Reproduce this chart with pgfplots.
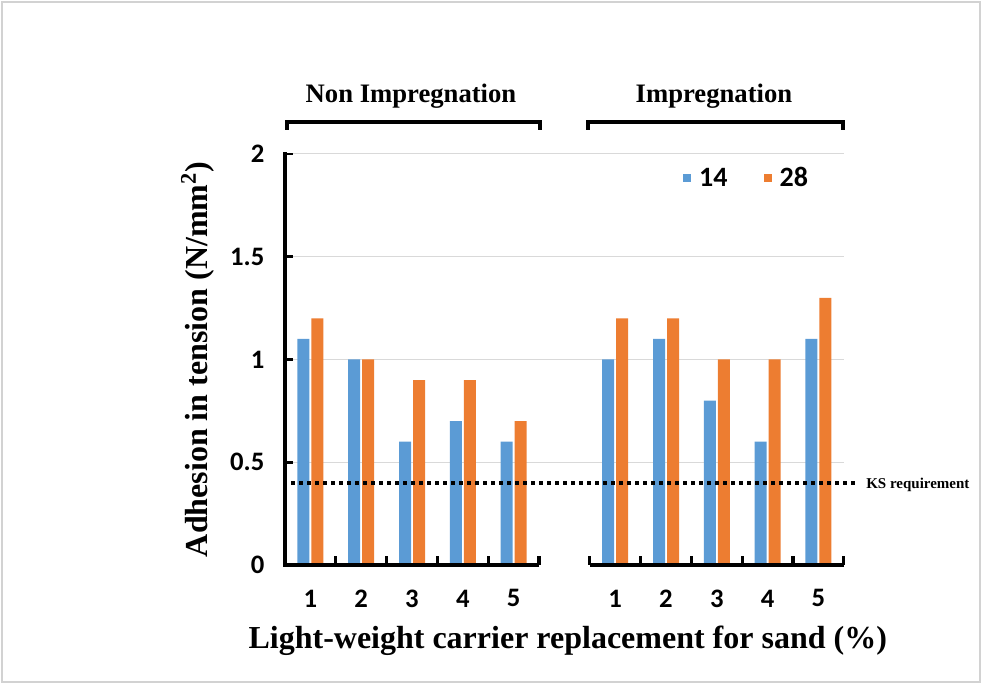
\documentclass[border=0pt]{standalone}
\usepackage{pgfplots}
\pgfplotsset{compat=1.18}
\usepackage{fontspec}
\setmainfont{Liberation Serif}
\newfontfamily\carlito{Carlito}
\definecolor{blue14}{HTML}{5B9BD5}
\definecolor{orange28}{HTML}{ED7D31}
\definecolor{gridgray}{HTML}{D9D9D9}
\begin{document}
\begin{tikzpicture}[x=0.75pt,y=0.75pt]
\useasboundingbox (0,0) rectangle (982,684);
\draw[gray!35, line width=1.2pt] (2,2) rectangle (980,682);
\begin{axis}[
  at={(213.75pt,89.25pt)}, anchor=south west,
  x=38.1pt, y=154.125pt,
  xmin=0.5, xmax=11.5, ymin=0, ymax=2,
  enlargelimits=false, clip=false,
  axis line style={draw=none},
  xtick={1,2,3,4,5,7,8,9,10,11},
  xticklabels={1,2,3,4,5,1,2,3,4,5},
  xtick style={draw=none},
  xtick pos=bottom, ytick pos=left,
  ytick={0.5,1,1.5,2},
  extra y ticks={0},
  extra y tick style={grid=none},
  ymajorgrids, grid style={gridgray, line width=0.75pt},
  ytick style={black, line width=2pt},
  tick align=inside, major tick length=6pt,
  /pgf/number format/assume math mode=true,
  ticklabel style={font=\carlito\bfseries\fontsize{20}{22}\selectfont},
  xticklabel style={yshift=-15pt},
  yticklabel style={xshift=-12pt},
  xlabel={Light-weight carrier replacement for sand (\%)},
  xlabel style={at={(axis description cs:0.506,-0.185)}, anchor=center, font=\bfseries\fontsize{24}{28}\selectfont},
  ylabel={Adhesion in tension (N/mm\textsuperscript{2})},
  ylabel style={at={(axis description cs:-0.156,0.5)}, anchor=center, font=\bfseries\fontsize{24}{28}\selectfont},
  legend image code/.code={\fill[#1] (0pt,-3pt) rectangle (6pt,3pt);},
  legend style={at={(axis description cs:0.705,0.9416)}, anchor=west, draw=none, fill=none,
    legend columns=2, font=\carlito\bfseries\fontsize{21}{23}\selectfont,
    /tikz/every odd column/.append style={column sep=4pt},
    /tikz/every even column/.append style={column sep=25pt}},
]
\addplot[ybar, bar width=9pt, bar shift=-5.25pt, fill=blue14, draw=none]
  coordinates {(1,1.1)(2,1.0)(3,0.6)(4,0.7)(5,0.6)(7,1.0)(8,1.1)(9,0.8)(10,0.6)(11,1.1)};
\addlegendentry{14}
\addplot[ybar, bar width=9pt, bar shift=5.25pt, fill=orange28, draw=none]
  coordinates {(1,1.2)(2,1.0)(3,0.9)(4,0.9)(5,0.7)(7,1.2)(8,1.2)(9,1.0)(10,1.0)(11,1.3)};
\addlegendentry{28}
\addplot[black, line width=3pt, dash pattern=on 3pt off 3pt, forget plot]
  coordinates {(0.62,0.4)(11.72,0.4)};
\draw[line width=3pt, line cap=rect] (axis cs:0.5,0) -- (axis cs:0.5,2);
\draw[line width=3pt] (axis cs:0.5,0) -- (axis cs:5.5,0);
\draw[line width=3pt] (axis cs:6.5,0) -- (axis cs:11.5,0);
\pgfplotsinvokeforeach{1.5,2.5,3.5,4.5,5.5,6.5,7.5,8.5,9.5,10.5,11.5}{
  \draw[line width=2.5pt] (axis cs:#1,0) -- (axis cs:#1,0.045);
}
\end{axis}
\draw[line width=3pt] (287,554) -- (287,562) -- (540,562) -- (540,554);
\draw[line width=3pt] (588,554) -- (588,562) -- (843,562) -- (843,554);
\node[font=\bfseries\fontsize{20}{24}\selectfont, anchor=base] at (411,581) {Non Impregnation};
\node[font=\bfseries\fontsize{20}{24}\selectfont, anchor=base] at (714,581) {Impregnation};
\node[font=\bfseries\fontsize{11.25}{13}\selectfont, anchor=west, inner sep=0pt] at (866,199) {KS requirement};
\end{tikzpicture}
\end{document}
